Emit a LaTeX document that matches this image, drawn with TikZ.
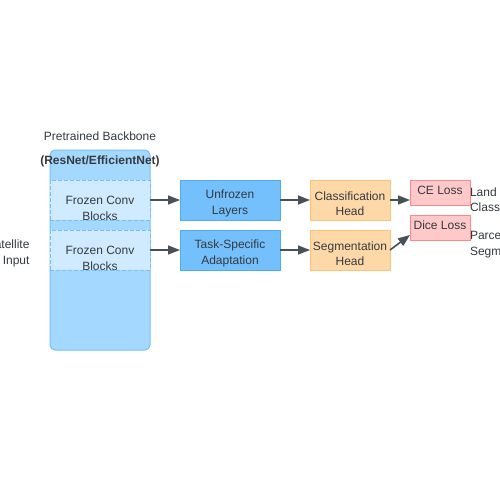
\documentclass[tikz,border=0pt]{standalone}
\usepackage{fontspec}
\setmainfont{Liberation Sans}
\usetikzlibrary{arrows.meta}
\definecolor{txt}{HTML}{343A40}
\definecolor{arr}{HTML}{495057}
\definecolor{bbfill}{HTML}{A5D8FF}
\definecolor{bbdraw}{HTML}{74C0FC}
\definecolor{frfill}{HTML}{D0EBFF}
\definecolor{unfill}{HTML}{74C0FC}
\definecolor{undraw}{HTML}{4DABF7}
\definecolor{orfill}{HTML}{FFD8A8}
\definecolor{ordraw}{HTML}{FFC078}
\definecolor{rdfill}{HTML}{FFC9C9}
\definecolor{rddraw}{HTML}{FF8787}
\begin{document}
\begin{tikzpicture}[x=1pt,y=-1pt,
  every node/.style={font=\fontsize{12}{15.5}\selectfont,text=txt,inner sep=0pt,outer sep=0pt},
  box/.style={draw,line width=1pt,minimum height=40pt,anchor=north west},
  frozen/.style={box,fill=frfill,draw=bbdraw,dash pattern=on 4pt off 2pt,minimum width=100pt},
  blue/.style={box,fill=unfill,draw=undraw,minimum width=100pt},
  orange/.style={box,fill=orfill,draw=ordraw,minimum width=80pt},
  loss/.style={box,fill=rdfill,draw=rddraw,minimum width=60pt,minimum height=25pt},
  lbl/.style={align=center},
  conn/.style={draw=arr,line width=1.6pt,-{Triangle[length=12pt,width=9pt]}}]
\useasboundingbox (0,0) rectangle (500,500);
\fill[white] (0,0) rectangle (500,500);
% backbone
\node[draw=bbdraw,fill=bbfill,line width=1pt,rounded corners=5pt,minimum width=100pt,minimum height=200pt,anchor=north west] (bb) at (50,150) {};
\node (bbt) at (100,136) {Pretrained Backbone};
\node (bbs) at (100,161) {\bfseries (ResNet/EfficientNet)};
\node[frozen] (f1) at (50,180) {};
\node[frozen] (f2) at (50,230) {};
\node[lbl] (f1t) at (100,208.5) {Frozen Conv\\Blocks};
\node[lbl] (f2t) at (100,258.5) {Frozen Conv\\Blocks};
\node[align=right,anchor=east] (sat) at (29.5,253.5) {Satellite\\Input};
% blue
\node[blue] (un) at (180,180) {};
\node[lbl] at ([yshift=-3.5pt]un.center) {Unfrozen\\Layers};
\node[blue] (ts) at (180,230) {};
\node[lbl] at ([yshift=-3.5pt]ts.center) {Task-Specific\\Adaptation};
% orange
\node[orange] (ch) at (310,180) {};
\node[lbl] at ([yshift=-3.5pt]ch.center) {Classification\\Head};
\node[orange] (sh) at (310,230) {};
\node[lbl] at ([yshift=-3.5pt]sh.center) {Segmentation\\Head};
% loss
\node[loss] (ce) at (410,180) {};
\node at ([yshift=2.5pt]ce.center) {CE Loss};
\node[loss] (dl) at (410,215) {};
\node at ([yshift=2.5pt]dl.center) {Dice Loss};
% outputs
\node[align=left,anchor=west] (lc) at (470,199.5) {Land\\Classification};
\node[align=left,anchor=west] (ps) at (470,244.5) {Parcel\\Segmentation};
% connectors
\draw[conn] (f1.east) -- (un.west);
\draw[conn] (f2.east) -- (ts.west);
\draw[conn] (un.east) -- (ch.west);
\draw[conn] (ts.east) -- (sh.west);
\draw[conn] (ch.east) -- (ce.south west |- ch.east);
\draw[conn] (sh.east) -- (dl.south west |- 0,235);
\end{tikzpicture}
\end{document}
